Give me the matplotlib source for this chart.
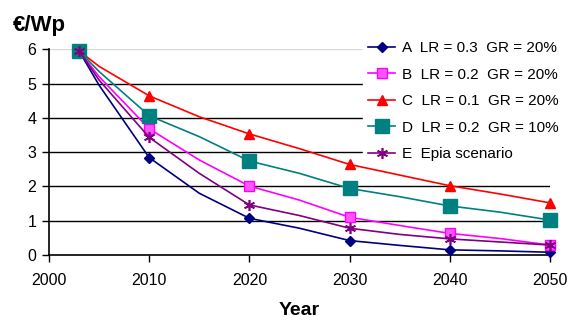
import matplotlib
matplotlib.use("Agg")
import matplotlib.pyplot as plt

plt.rcParams['font.family'] = ['Liberation Sans', 'DejaVu Sans']

# values (markers only on the labelled years)
years = [2003, 2005, 2010, 2015, 2020, 2025, 2030, 2035, 2040, 2045, 2050]
marked = [0, 2, 4, 6, 8, 10]

a_vals = [5.95, 4.95, 2.84, 1.80, 1.07, 0.78, 0.42, 0.28, 0.15, 0.12, 0.08]
b_vals = [5.95, 5.20, 3.68, 2.77, 2.01, 1.60, 1.10, 0.86, 0.63, 0.48, 0.29]
c_vals = [5.95, 5.50, 4.64, 4.03, 3.53, 3.10, 2.64, 2.33, 2.02, 1.78, 1.52]
d_vals = [5.95, 5.35, 4.06, 3.45, 2.74, 2.38, 1.94, 1.70, 1.43, 1.25, 1.02]
e_vals = [5.95, 5.10, 3.43, 2.38, 1.46, 1.15, 0.78, 0.60, 0.47, 0.38, 0.29]

labels = ["A  LR = 0.3  GR = 20%", "B  LR = 0.2  GR = 20%",
          "C  LR = 0.1  GR = 20%", "D  LR = 0.2  GR = 10%",
          "E  Epia scenario"]

fig = plt.figure(figsize=(5.75, 3.25), dpi=100)
ax = fig.add_axes([0.0852, 0.2154, 0.8713, 0.6332])

for y in range(1, 6):
    ax.axhline(y, color='black', lw=1.0, zorder=1)
ax.axhline(6, color='#d8d8d8', lw=1.0, zorder=1)

kw = dict(lw=1.2, markevery=marked, clip_on=False, zorder=3)
ax.plot(years, a_vals, color='#000080', marker='D', ms=5.5, label=labels[0], **kw)
ax.plot(years, b_vals, color='#FF00FF', marker='s', ms=7, mfc='#ff55ff',
        mec='#FF00FF', label=labels[1], **kw)
ax.plot(years, c_vals, color='#FF0000', marker='^', ms=7.5, label=labels[2], **kw)
ax.plot(years, d_vals, color='#008080', marker='s', ms=10, label=labels[3], **kw)
ax.plot(years, e_vals, color='#800080', marker=(6, 2, 0), ms=8, mew=1.2,
        label=labels[4], **kw)

ax.set_xlim(2000, 2050)
ax.set_ylim(0, 6)
ax.set_xticks(range(2000, 2051, 10))
ax.set_yticks(range(0, 7))
ax.tick_params(labelsize=11.5, direction='out', length=5, width=1, pad=4)
ax.tick_params(axis='x', pad=8)
for s in ['top', 'right']:
    ax.spines[s].set_visible(False)
for s in ['left', 'bottom']:
    ax.spines[s].set_linewidth(1.2)

ax.set_xlabel("Year", fontsize=14, fontweight='bold', labelpad=10)
fig.text(0.022, 0.905, "€/Wp", fontsize=16, fontweight='bold')

leg = ax.legend(loc='upper left', bbox_to_anchor=(0.632, 0.888),
                bbox_transform=fig.transFigure, frameon=True, fontsize=11,
                handlelength=1.8, handletextpad=0.4, labelspacing=0.82,
                borderpad=0.3, borderaxespad=0, fancybox=False)
leg.get_frame().set_edgecolor('white')
leg.get_frame().set_facecolor('white')
leg.get_frame().set_alpha(1)
leg.set_zorder(2)

fig.savefig("out.png", dpi=100)
